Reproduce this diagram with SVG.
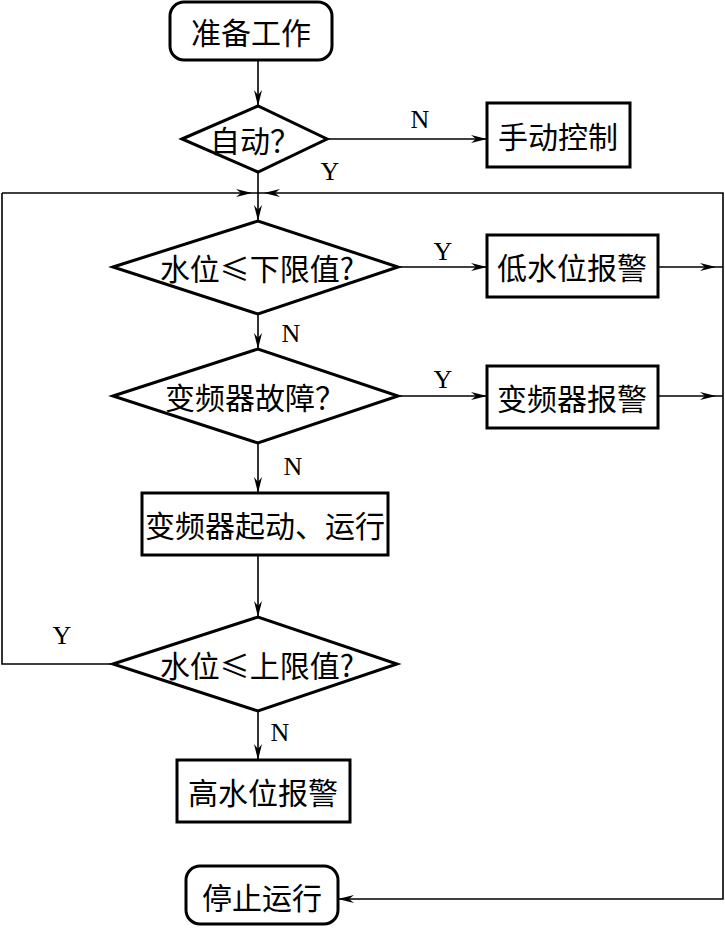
<svg xmlns="http://www.w3.org/2000/svg" width="725" height="928" viewBox="0 0 725 928">
<style>
.box{fill:#fff;stroke:#000;stroke-width:3}
.ln{fill:none;stroke:#000;stroke-width:1.6}
.t{font-family:"Noto Sans CJK SC","Noto Sans CJK JP",sans-serif;font-size:30px;fill:#000;text-anchor:middle;dominant-baseline:central}
.lb{font-family:"Liberation Serif",serif;font-size:26px;fill:#000;text-anchor:middle;dominant-baseline:central}
</style>
<defs>
<path id="ah" d="M0,0 L-16,-4 L-11,0 L-16,4 Z" fill="#000"/>
</defs>
<rect width="725" height="928" fill="#fff"/>
<g id="connectors">
<path class="ln" d="M258,60 V106"/>
<use href="#ah" transform="translate(258,106) rotate(90)"/>
<path class="ln" d="M327,139 H487"/>
<use href="#ah" transform="translate(487,139)"/>
<path class="ln" d="M258,172 V221"/>
<use href="#ah" transform="translate(258,221) rotate(90)"/>
<path class="ln" d="M2,193 H723 V899 H338"/>
<use href="#ah" transform="translate(252,193)"/>
<use href="#ah" transform="translate(264,193) rotate(180)"/>
<use href="#ah" transform="translate(338,899) rotate(180)"/>
<path class="ln" d="M398,267 H487"/>
<use href="#ah" transform="translate(487,267)"/>
<path class="ln" d="M658,267 H723"/>
<use href="#ah" transform="translate(716,267)"/>
<path class="ln" d="M258,314 V349"/>
<use href="#ah" transform="translate(258,349) rotate(90)"/>
<path class="ln" d="M398,396 H487"/>
<use href="#ah" transform="translate(487,396)"/>
<path class="ln" d="M658,396 H723"/>
<use href="#ah" transform="translate(716,396)"/>
<path class="ln" d="M258,443 V493"/>
<use href="#ah" transform="translate(258,493) rotate(90)"/>
<path class="ln" d="M258,555 V617"/>
<use href="#ah" transform="translate(258,617) rotate(90)"/>
<path class="ln" d="M113,664 H2 V193"/>
<path class="ln" d="M258,711 V760"/>
<use href="#ah" transform="translate(258,760) rotate(90)"/>
<text class="lb" x="420" y="119">N</text>
<text class="lb" x="330" y="171">Y</text>
<text class="lb" x="443" y="251">Y</text>
<text class="lb" x="291" y="333">N</text>
<text class="lb" x="443" y="379">Y</text>
<text class="lb" x="293" y="466">N</text>
<text class="lb" x="62" y="635">Y</text>
<text class="lb" x="280" y="732">N</text>
</g>
<g id="start"><rect class="box" x="170" y="2" width="162" height="58" rx="14"/><text class="t" x="251" y="31">准备工作</text></g>
<g id="auto"><polygon class="box" points="182,139 258,106 327,139 258,172"/><text class="t" x="255" y="139">自动？</text></g>
<g id="manual"><rect class="box" x="487" y="103" width="143" height="64"/><text class="t" x="558" y="135">手动控制</text></g>
<g id="lowcheck"><polygon class="box" points="113,267 258,221 398,267 258,314"/><text class="t" x="257" y="267">水位≤下限值?</text></g>
<g id="lowalarm"><rect class="box" x="487" y="235" width="171" height="62"/><text class="t" x="572" y="266">低水位报警</text></g>
<g id="fault"><polygon class="box" points="113,396 258,349 398,396 258,443"/><text class="t" x="255" y="396">变频器故障？</text></g>
<g id="faultalarm"><rect class="box" x="487" y="366" width="171" height="62"/><text class="t" x="572" y="397">变频器报警</text></g>
<g id="run"><rect class="box" x="142" y="493" width="246" height="62"/><text class="t" x="265" y="524" textLength="240" lengthAdjust="spacingAndGlyphs">变频器起动、运行</text></g>
<g id="highcheck"><polygon class="box" points="113,664 258,617 397,664 258,711"/><text class="t" x="257" y="664">水位≤上限值?</text></g>
<g id="highalarm"><rect class="box" x="177" y="760" width="173" height="62"/><text class="t" x="263" y="791">高水位报警</text></g>
<g id="stop"><rect class="box" x="186" y="866" width="152" height="58" rx="14"/><text class="t" x="262" y="896">停止运行</text></g>
</svg>
